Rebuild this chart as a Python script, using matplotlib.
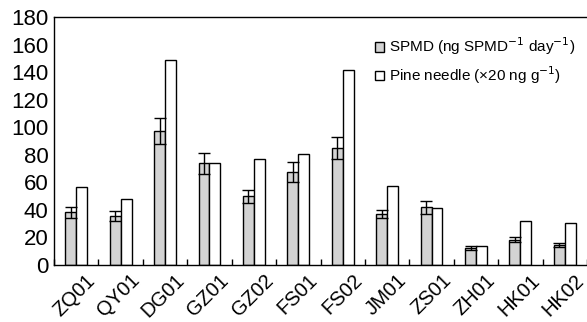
import matplotlib
matplotlib.use("Agg")
import matplotlib.pyplot as plt
import matplotlib.transforms as mtransforms
import numpy as np

plt.rcParams['font.family'] = ['Liberation Sans', 'DejaVu Sans']

# sampling sites
sites = ["ZQ01", "QY01", "DG01", "GZ01", "GZ02", "FS01", "FS02",
         "JM01", "ZS01", "ZH01", "HK01", "HK02"]
# SPMD (ng SPMD-1 day-1) and its error
spmd = [38.2, 35.8, 97.2, 73.8, 49.8, 67.5, 84.7, 36.8, 41.8, 12.3, 18.4, 14.3]
spmd_err = [4.0, 3.5, 9.5, 7.5, 4.5, 7.0, 8.0, 3.0, 5.0, 1.5, 1.7, 1.4]
# pine needle (x20 ng g-1)
pine = [56.8, 47.7, 148.5, 74.0, 77.1, 80.8, 141.3, 57.1, 41.1, 14.0, 32.2, 30.7]

x = np.arange(len(sites))
w = 0.245

fig = plt.figure(figsize=(5.87, 3.22), dpi=100)
ax = fig.add_axes([0.092, 0.177, 0.908, 0.770])

ax.bar(x - w/2, spmd, w, color='#d3d3d3', edgecolor='black', linewidth=1.0,
       label='SPMD (ng SPMD$^{-1}$ day$^{-1}$)')
ax.errorbar(x - w/2, spmd, yerr=spmd_err, fmt='none', ecolor='black',
            elinewidth=1.0, capsize=4, capthick=1.0)
ax.bar(x + w/2, pine, w, color='white', edgecolor='black', linewidth=1.0,
       label='Pine needle (\u00d720 ng g$^{-1}$)')

ax.set_xlim(-0.5, 11.34)
ax.set_ylim(0, 180)
ax.set_yticks(range(0, 181, 20))
ax.tick_params(axis='y', length=0, labelsize=16, pad=4)

# tick marks between sites, labels at site centres
ax.set_xticks(x)
ax.set_xticklabels(sites, rotation=45, ha='right', rotation_mode='anchor', fontsize=14.5)
ax.tick_params(axis='x', which='major', length=0, pad=4)
ax.set_xticks(np.arange(-0.5, len(sites), 1.0), minor=True)
ax.tick_params(axis='x', which='minor', direction='in', length=4, width=1)
shift = mtransforms.ScaledTranslation(7/72, 0, fig.dpi_scale_trans)
for lbl in ax.get_xticklabels():
    lbl.set_transform(lbl.get_transform() + shift)

ax.spines['right'].set_visible(False)
for s in ['left', 'bottom', 'top']:
    ax.spines[s].set_linewidth(1.0)

ax.legend(loc='upper left', bbox_to_anchor=(0.603, 0.925), frameon=False, fontsize=11,
          handlelength=0.55, handleheight=0.55, handletextpad=0.35, labelspacing=0.45,
          borderpad=0, borderaxespad=0)

fig.savefig("out.png", dpi=100)
